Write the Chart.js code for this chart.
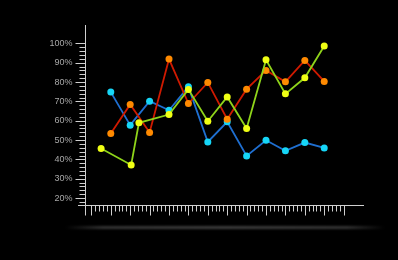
<!DOCTYPE html>
<html>
<head>
<meta charset="utf-8">
<script src="https://cdn.jsdelivr.net/npm/chart.js@4"></script>
<style>
    html, body { margin: 0; padding: 0; background: #000; }
    #wrap { position: relative; width: 398px; height: 260px; }
    #glow {
        position: absolute; left: 65px; top: 226px; width: 320px; height: 3px;
        background: linear-gradient(to right, rgba(60,60,60,0), #333 12%, #3c3c3c 50%, #333 88%, rgba(60,60,60,0));
        filter: blur(0.8px);
    }
</style>
</head>
<body>
<div id="wrap">
    <canvas id="lineChart"></canvas>
    <div id="glow"></div>
</div>
<script>
const yTickValues = [20, 30, 40, 50, 60, 70, 80, 90, 100]
const yTickLabels = ['20%', '30%', '40%', '50%', '60%', '70%', '80%', '90%', '100%']

const blueX = [1, 2, 3, 4, 5, 6, 7, 8, 9, 10, 11, 12]
const blueValues = [74.8, 57.7, 70.1, 65.4, 77.5, 49.0, 59.4, 41.8, 49.9, 44.4, 48.7, 45.9]

const orangeX = [1, 2, 3, 4, 5, 6, 7, 8, 9, 10, 11, 12]
const orangeValues = [53.4, 68.4, 53.9, 91.9, 68.9, 79.8, 60.8, 76.3, 86.0, 80.1, 91.2, 80.3]

const yellowX = [0.5, 2.05, 2.45, 4, 5, 6, 7, 8, 9, 10, 11, 12]
const yellowValues = [45.6, 37.1, 58.9, 63.2, 76.2, 59.7, 72.3, 56.0, 91.5, 73.9, 82.2, 98.6]

const toPoints = (xs, ys) => xs.map((x, i) => ({ x: x, y: ys[i] }))

// axes drawn by hand: major + minor ticks, crossing lines
const rulerAxes = {
    id: 'rulerAxes',
    beforeDatasetsDraw(chart) {
        const ctx = chart.ctx
        const xs = chart.scales.x
        const ys = chart.scales.y
        const axisX = Math.round(xs.getPixelForValue(-0.32)) + 0.5
        const axisY = Math.round(ys.getPixelForValue(16.4)) + 0.5

        ctx.save()
        ctx.strokeStyle = '#d0d0d0'
        ctx.lineWidth = 1

        ctx.beginPath()
        ctx.moveTo(axisX, chart.chartArea.top)
        ctx.lineTo(axisX, axisY + 10)
        ctx.moveTo(chart.chartArea.left, axisY)
        ctx.lineTo(chart.chartArea.right, axisY)
        ctx.stroke()

        // y ticks every 2%
        ctx.beginPath()
        for (let v = 18; v <= 100; v += 2) {
            const py = Math.round(ys.getPixelForValue(v)) + 0.5
            const len = v % 10 === 0 ? 10 : 6
            ctx.moveTo(axisX - len, py)
            ctx.lineTo(axisX, py)
        }
        // x ticks every 0.2
        for (let i = 0; i <= 65; i++) {
            const v = i / 5
            const px = Math.round(xs.getPixelForValue(v)) + 0.5
            const len = i % 5 === 0 ? 10 : 6
            ctx.moveTo(px, axisY)
            ctx.lineTo(px, axisY + len)
        }
        ctx.stroke()

        ctx.fillStyle = '#a8a8a8'
        ctx.font = '9px "Liberation Sans", Arial, sans-serif'
        ctx.textAlign = 'right'
        ctx.textBaseline = 'middle'
        yTickValues.forEach((v, i) => {
            ctx.fillText(yTickLabels[i], axisX - 13, ys.getPixelForValue(v))
        })
        ctx.restore()
    }
}

const ctx = document.getElementById('lineChart').getContext('2d');

// first dataset is drawn on top
new Chart(ctx, {
    type: 'line',
    data: {
        datasets: [{
            data: toPoints(yellowX, yellowValues),
            borderColor: '#8fd41a',
            pointBackgroundColor: '#f0ff14',
            pointBorderColor: '#f0ff14',
        }, {
            data: toPoints(orangeX, orangeValues),
            borderColor: '#cf1a00',
            pointBackgroundColor: '#ff8a00',
            pointBorderColor: '#ff8a00',
        }, {
            data: toPoints(blueX, blueValues),
            borderColor: '#1f6fd1',
            pointBackgroundColor: '#16d6f7',
            pointBorderColor: '#16d6f7',
        }]
    },
    options: {
        responsive: true,
        maintainAspectRatio: false,
        animation: false,
        layout: {
            padding: { top: 25, bottom: 55, left: 78, right: 34 }
        },
        elements: {
            line: { borderWidth: 1.8, tension: 0 },
            point: { radius: 3.5, borderWidth: 0, hoverRadius: 3.5 }
        },
        scales: {
            x: { type: 'linear', min: -0.69, max: 14.05, display: false },
            y: { min: 16.4, max: 109.5, display: false }
        },
        plugins: {
            legend: { display: false },
            tooltip: { enabled: false }
        }
    },
    plugins: [rulerAxes]
});
</script>
</body>
</html>
